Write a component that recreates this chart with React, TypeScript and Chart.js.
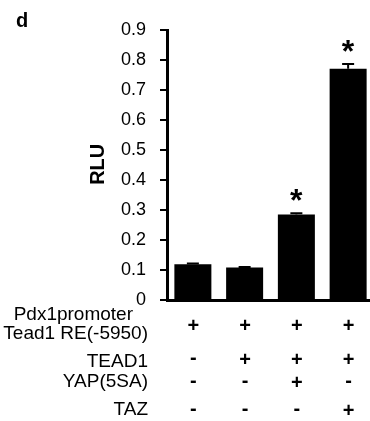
import React, { useEffect, useRef } from "react";
import { Chart, registerables } from "chart.js";

Chart.register(...registerables);

const categories = ["1", "2", "3", "4"];
const rluValues = [0.119, 0.108, 0.285, 0.771];
const rluErrors = [0.003, 0.002, 0.004, 0.016];
const significant = [false, false, true, true];
const yMin = 0;
const yMax = 0.9;
const yStep = 0.1;
const panelLetter = "d";
const yTitle = "RLU";
const rowLabels = [["Pdx1promoter", "Tead1 RE(-5950)"], ["TEAD1"], ["YAP(5SA)"], ["TAZ"]];
const rowMarks = [
  ["+", "+", "+", "+"],
  ["-", "+", "+", "+"],
  ["-", "-", "+", "-"],
  ["-", "-", "-", "+"],
];

const FONT = "'Liberation Sans', Arial, sans-serif";

function drawCentered(ctx: CanvasRenderingContext2D, text: string, cx: number, cy: number) {
  ctx.textAlign = "left";
  ctx.textBaseline = "alphabetic";
  const m = ctx.measureText(text);
  const asc = m.actualBoundingBoxAscent;
  const desc = m.actualBoundingBoxDescent;
  const left = -m.actualBoundingBoxLeft;
  const right = m.actualBoundingBoxRight;
  ctx.fillText(text, cx - (left + right) / 2, cy + (asc - desc) / 2);
}

const annotations = {
  id: "annotations",
  afterDatasetsDraw(chart: any) {
    const ctx: CanvasRenderingContext2D = chart.ctx;
    const x = chart.scales.x;
    const y = chart.scales.y;
    ctx.save();
    ctx.strokeStyle = "#000";
    ctx.lineWidth = 2;
    rluValues.forEach((v, i) => {
      const cx = x.getPixelForValue(i);
      const yt = y.getPixelForValue(v + rluErrors[i]);
      const yb = y.getPixelForValue(v);
      ctx.beginPath();
      ctx.moveTo(cx, yb);
      ctx.lineTo(cx, yt);
      ctx.moveTo(cx - 6, yt);
      ctx.lineTo(cx + 6, yt);
      ctx.stroke();
    });
    ctx.restore();
  },
  afterDraw(chart: any) {
    const ctx: CanvasRenderingContext2D = chart.ctx;
    const x = chart.scales.x;
    const y = chart.scales.y;
    const area = chart.chartArea;
    ctx.save();
    ctx.fillStyle = "#000";

    ctx.font = `bold 20px ${FONT}`;
    ctx.textAlign = "left";
    ctx.textBaseline = "alphabetic";
    ctx.fillText(panelLetter, 16, 27);

    ctx.save();
    ctx.translate(97, 164);
    ctx.rotate(-Math.PI / 2);
    ctx.font = `bold 20px ${FONT}`;
    drawCentered(ctx, yTitle, 0, 0);
    ctx.restore();

    ctx.font = `bold 32px ${FONT}`;
    rluValues.forEach((v, i) => {
      if (!significant[i]) return;
      const cx = x.getPixelForValue(i);
      const top = y.getPixelForValue(v + rluErrors[i]);
      drawCentered(ctx, "*", cx, top - 18);
    });

    const labelRight = area.left - 19;
    const labelY = [[315, 334], [362], [382], [410]];
    ctx.font = `19px ${FONT}`;
    rowLabels.forEach((lines, r) => {
      lines.forEach((t, k) => {
        const rx = r === 0 && k === 0 ? labelRight - 15 : labelRight;
        ctx.textAlign = "right";
        ctx.textBaseline = "middle";
        ctx.fillText(t, rx, labelY[r][k]);
      });
    });

    const markY = [324.5, 358, 381.5, 409.5];
    ctx.font = `bold 20px ${FONT}`;
    rowMarks.forEach((row, r) => {
      row.forEach((m, i) => {
        drawCentered(ctx, m, x.getPixelForValue(i), markY[r]);
      });
    });
    ctx.restore();
  },
};

export default function App() {
  const ref = useRef<HTMLCanvasElement | null>(null);
  useEffect(() => {
    if (!ref.current) return;
    Chart.defaults.font.family = FONT;
    Chart.defaults.color = "#000";
    const chart = new Chart(ref.current, {
      type: "bar",
      data: {
        labels: categories,
        datasets: [
          {
            data: rluValues,
            backgroundColor: "#000",
            borderWidth: 0,
            barPercentage: 0.715,
            categoryPercentage: 1,
          },
        ],
      },
      options: {
        responsive: false,
        animation: false,
        devicePixelRatio: 1,
        layout: { padding: { left: 0, top: 30, right: 6, bottom: 121 } },
        plugins: { legend: { display: false }, tooltip: { enabled: false } },
        scales: {
          x: {
            grid: { display: false },
            ticks: { display: false },
            border: { display: true, color: "#000", width: 3 },
            afterFit: (s: any) => {
              s.height = 0;
            },
          },
          y: {
            min: yMin,
            max: yMax,
            grid: {
              display: true,
              drawOnChartArea: false,
              drawTicks: true,
              tickLength: 7,
              lineWidth: 2,
              color: "#000",
            },
            border: { display: true, color: "#000", width: 3 },
            ticks: {
              stepSize: yStep,
              padding: 14,
              color: "#000",
              font: { size: 18, family: FONT },
              callback: (v: any) => String(Number(Number(v).toFixed(1))),
            },
            afterFit: (s: any) => {
              s.width = 167;
            },
          },
        },
      },
      plugins: [annotations],
    });
    return () => chart.destroy();
  }, []);
  return (
    <div
      style={{
        position: "absolute",
        left: 0,
        top: 0,
        width: 370,
        height: 421,
        overflow: "hidden",
        background: "#fff",
      }}
    >
      <canvas ref={ref} width={380} height={421} style={{ width: 380, height: 421, display: "block" }} />
    </div>
  );
}
